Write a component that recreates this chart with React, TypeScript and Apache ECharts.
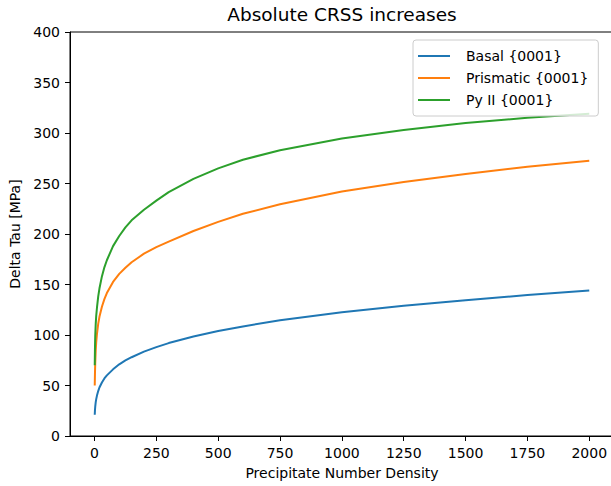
import React, { useEffect, useRef } from "react";
import * as echarts from "echarts";

const xValues = [1, 2, 3, 5, 7, 10, 15, 20, 30, 40, 50, 75, 100, 125, 150, 200, 250, 300, 400, 500, 600, 750, 1000, 1250, 1500, 1750, 2000];
const basal = [21, 26, 29, 33.5, 36.5, 40, 44.5, 48, 53, 57, 60, 66, 71, 74.8, 78, 83.5, 88, 92, 98.5, 104, 108.5, 114.5, 122.5, 129, 134.5, 139.5, 144];
const prismatic = [50, 63, 72, 85, 93, 101, 111, 118, 128, 135.5, 141.5, 152.5, 160.5, 166.5, 172, 180.5, 187, 192.5, 203, 212, 220, 229.5, 242, 251.5, 259.5, 266.5, 272.6];
const pyramidal = [70, 88, 99, 111, 119, 127, 138, 146, 158, 167, 174, 188, 198, 206.5, 213.5, 224, 233, 241.5, 254.5, 265, 273.5, 283, 294.5, 303, 309.8, 315, 319];
const xTicks = [0, 250, 500, 750, 1000, 1250, 1500, 1750, 2000];
const seriesNames = ["Basal {0001}", "Prismatic {0001}", "Py II {0001}"];
const colors = ["#1f77b4", "#ff7f0e", "#2ca02c"];

const FONT = "DejaVu Sans";

export default function App() {
  const ref = useRef<HTMLDivElement>(null);
  useEffect(() => {
    document.body.style.overflow = "hidden";
    const chart = echarts.init(ref.current!, null, { renderer: "svg" });
    const data = [basal, prismatic, pyramidal];
    chart.setOption({
      animation: false,
      backgroundColor: "#ffffff",
      textStyle: { fontFamily: FONT },
      title: {
        text: "Absolute CRSS increases",
        left: 342,
        textAlign: "center",
        top: 5,
        padding: 0,
        textStyle: { fontFamily: FONT, fontSize: 18.5, fontWeight: "normal", color: "#000" },
      },
      legend: {
        orient: "vertical",
        left: 413,
        top: 40,
        padding: [8, 10, 8, 5],
        itemGap: 6,
        itemWidth: 32,
        itemHeight: 2,
        icon: "rect",
        backgroundColor: "rgba(255,255,255,0.8)",
        borderColor: "#cccccc",
        borderWidth: 1,
        borderRadius: 3,
        textStyle: { fontFamily: FONT, fontSize: 14, lineHeight: 16, color: "#000", padding: [0, 0, 0, 11] },
        data: seriesNames,
      },
      grid: { left: 70, top: 32, right: 26, bottom: 50, show: true, borderColor: "#000", borderWidth: 1, backgroundColor: "transparent" },
      xAxis: {
        type: "value",
        min: -99,
        max: 2100,
        name: "Precipitate Number Density",
        nameLocation: "middle",
        nameGap: 30,
        nameTextStyle: { fontFamily: FONT, fontSize: 14, color: "#000" },
        axisLine: { show: true, onZero: false, lineStyle: { color: "#000", width: 1 } },
        axisTick: { show: true, length: 5, lineStyle: { color: "#000" }, customValues: xTicks },
        axisLabel: { margin: 10, fontFamily: FONT, fontSize: 14, color: "#000", customValues: xTicks, formatter: (v: number) => String(v) },
        splitLine: { show: false },
      },
      yAxis: {
        type: "value",
        min: 0,
        max: 400,
        interval: 50,
        name: "Delta Tau [MPa]",
        nameLocation: "middle",
        nameGap: 46,
        nameTextStyle: { fontFamily: FONT, fontSize: 14, color: "#000" },
        axisLine: { show: true, onZero: false, lineStyle: { color: "#000", width: 1 } },
        axisTick: { show: true, length: 5, lineStyle: { color: "#000" } },
        axisLabel: { margin: 10, fontFamily: FONT, fontSize: 14, color: "#000" },
        splitLine: { show: false },
      },
      series: seriesNames.map((name, i) => ({
        name,
        type: "line",
        symbol: "none",
        smooth: false,
        color: colors[i],
        itemStyle: { color: colors[i] },
        lineStyle: { width: 2, color: colors[i] },
        data: xValues.map((x, j) => [x, data[i][j]]),
      })),
    });
    return () => chart.dispose();
  }, []);
  return <div ref={ref} style={{ position: "absolute", left: 0, top: 0, width: 640, height: 486 }} />;
}
